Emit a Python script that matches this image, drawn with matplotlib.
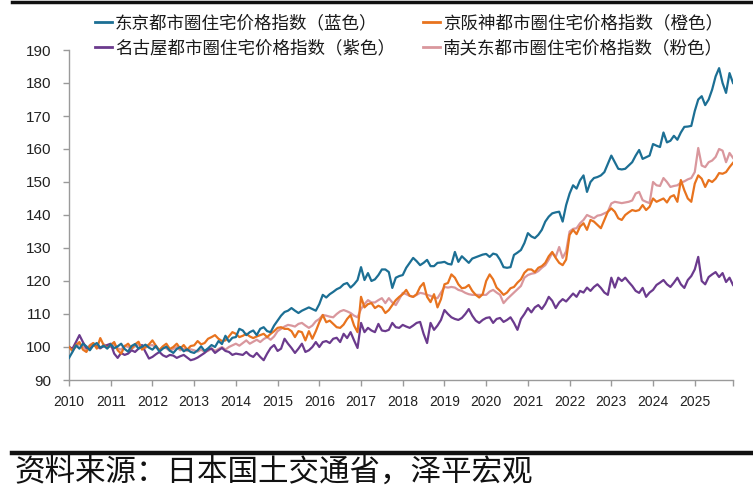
import numpy as np
import matplotlib
matplotlib.use("Agg")
import matplotlib.pyplot as plt
from matplotlib.lines import Line2D

# ---------------- data (monthly, 2010-01 .. 2025-12) ----------------
tokyo = [
    96.7, 98.5, 100.5, 99.5, 101.0, 100.2, 99.0, 100.5, 101.2, 99.8, 100.4, 99.5,
    100.8, 99.6, 100.2, 101.0, 99.4, 98.6, 100.3, 100.9, 99.5, 100.1, 100.7, 99.8,
    99.2, 100.3, 98.6, 99.5, 100.1, 98.9, 98.2, 99.4, 100.0, 98.7, 99.3, 98.5,
    98.2, 99.0, 100.2, 98.8, 99.6, 100.6, 100.0, 101.8, 100.9, 103.4, 101.6, 102.8,
    103.0, 105.5, 105.0, 103.6, 104.5, 105.0, 103.6, 105.5, 106.0, 104.8, 104.5, 106.5,
    108.0, 109.5, 110.6, 111.0, 111.8, 111.0, 110.3, 111.0, 111.5, 112.0, 111.5, 111.0,
    113.0, 115.8, 115.0, 116.0, 116.7, 117.5, 118.0, 119.0, 119.4, 118.0, 119.0, 120.3,
    124.2, 120.3, 122.4, 120.0, 120.5, 121.8, 123.5, 123.5, 122.7, 117.9, 121.0, 121.5,
    121.8, 124.0, 125.5, 127.0, 126.0, 124.8, 125.5, 126.4, 124.5, 124.5, 125.5, 125.6,
    125.8, 125.2, 125.0, 128.8, 125.8, 127.5, 126.5, 125.5, 126.8, 127.2, 127.6, 128.0,
    128.2, 127.3, 128.3, 128.0, 126.4, 124.2, 124.0, 124.2, 127.9, 128.6, 129.4, 131.5,
    134.5, 133.5, 133.0, 134.0, 135.5, 138.0, 139.5, 140.5, 140.8, 141.0, 138.0, 143.0,
    146.5, 149.0, 148.0, 150.5, 152.0, 147.0, 150.0, 151.2, 151.5, 152.0, 153.0, 155.5,
    158.0, 156.0, 154.0, 153.8, 154.0, 155.0, 156.0, 158.0, 159.7, 157.0, 157.5, 158.0,
    161.5, 161.0, 160.6, 165.0, 162.0, 162.5, 164.0, 162.8, 165.0, 166.7, 166.8, 167.0,
    171.5, 175.0, 176.0, 173.3, 175.0, 178.0, 182.0, 184.5, 180.0, 177.0, 183.0, 180.0,
]

kansai = [
    100.0, 98.8, 100.6, 101.5, 99.2, 98.5, 100.4, 101.2, 99.5, 102.7, 100.5, 99.8,
    100.6, 101.5, 99.0, 98.0, 100.2, 101.0, 99.6, 100.8, 101.6, 99.2, 100.0, 100.8,
    102.0, 100.4, 99.0, 100.2, 101.0, 99.4, 100.0, 101.0, 99.5, 100.6, 99.2, 100.3,
    100.5, 101.8, 100.8, 101.2, 102.5, 103.0, 103.6, 102.5, 101.8, 102.0, 103.2, 104.5,
    104.0, 103.0, 103.4, 104.0, 103.2, 102.7, 103.2, 103.6, 104.0, 103.0, 104.0, 104.8,
    105.8, 106.0, 105.5, 105.5, 104.8, 103.0, 104.8, 104.5, 102.0, 104.8, 102.5, 104.8,
    107.5, 109.7, 107.5, 108.0, 107.0, 106.0, 105.8, 106.8, 108.5, 109.7, 106.5, 104.5,
    115.2, 112.0, 113.0, 113.3, 111.8, 112.5, 112.0, 110.3, 111.2, 112.7, 114.2, 115.2,
    116.0, 117.3, 115.5, 115.2, 116.0, 118.2, 119.4, 115.2, 113.6, 116.0, 112.0, 114.5,
    119.0, 119.4, 122.0, 121.0, 119.0, 117.8, 118.0, 118.8, 117.0, 115.8, 115.0, 116.0,
    120.0, 122.0, 120.5, 118.0, 117.0, 115.8, 116.5, 117.8, 118.2, 119.5, 120.5, 122.5,
    123.5, 123.5, 122.7, 124.0, 124.5, 125.5, 127.5, 128.8, 127.0, 125.5, 124.8, 126.5,
    134.0, 135.5, 134.2, 136.5, 137.5, 135.5, 138.5, 138.0, 137.0, 136.0, 138.5, 141.0,
    142.0, 141.0, 139.0, 138.5, 140.0, 140.8, 141.5, 141.2, 141.5, 143.0, 141.5, 142.5,
    145.0, 144.0, 144.5, 145.0, 143.8, 145.5, 146.0, 144.0, 150.6, 147.5, 145.0, 144.0,
    149.5, 152.0, 151.0, 148.5, 150.6, 150.0, 151.0, 152.7, 152.5, 153.0, 154.5, 155.8,
]

nagoya = [
    100.0, 99.5, 101.5, 103.6, 101.5, 99.7, 99.5, 100.6, 100.2, 99.7, 100.2, 100.6,
    101.0, 98.0, 96.7, 98.2, 97.6, 98.0, 99.0, 98.5, 99.5, 100.6, 98.5, 96.5,
    97.0, 97.8, 98.5, 97.5, 97.0, 97.6, 97.4, 96.7, 97.2, 97.6, 96.8, 96.0,
    96.3, 96.8, 97.5, 98.2, 99.2, 99.5, 98.2, 99.0, 99.7, 98.8, 98.5, 97.6,
    98.0, 97.8, 97.6, 98.5, 97.5, 97.0, 98.2, 97.0, 96.0, 98.0, 99.7, 100.6,
    98.8, 99.5, 102.5, 101.0, 99.7, 98.2, 99.5, 101.0, 98.5, 99.0, 100.0, 101.5,
    100.0, 101.5, 101.8, 101.2, 102.5, 102.8, 101.5, 104.0, 102.7, 104.5, 102.0, 99.7,
    107.3, 104.5, 105.8, 105.0, 104.5, 107.0, 105.0, 104.8, 105.2, 107.3, 106.0, 105.8,
    106.7, 106.2, 105.8, 106.5, 107.3, 107.6, 104.0, 101.2, 107.3, 105.2, 106.5, 108.2,
    111.2, 110.0, 109.0, 108.5, 108.2, 108.8, 110.0, 111.5, 109.5, 108.0, 107.3, 108.2,
    108.8, 109.0, 107.3, 108.5, 108.8, 107.6, 108.2, 109.0, 107.3, 105.2, 108.5, 110.0,
    111.8, 110.5, 112.0, 112.7, 111.5, 113.0, 115.2, 114.0, 111.8, 113.5, 114.5, 113.8,
    115.0, 116.2, 115.2, 117.0, 116.5, 118.0, 117.0, 118.2, 119.0, 117.9, 116.5, 115.8,
    121.0, 118.0, 121.0, 120.0, 121.0, 119.7, 118.5, 117.0, 116.4, 117.9, 115.2, 116.5,
    117.3, 118.8, 119.5, 120.3, 119.0, 118.2, 119.5, 121.0, 119.0, 117.9, 120.3, 121.5,
    123.5, 127.3, 120.0, 119.0, 121.2, 122.0, 122.7, 121.2, 122.4, 119.7, 121.0, 118.8,
]

kanto = [
    100.2, 99.0, 100.0, 101.0, 100.2, 99.2, 100.6, 101.2, 100.0, 99.5, 100.8, 100.2,
    100.0, 100.8, 99.6, 99.2, 100.4, 100.0, 99.4, 100.2, 100.8, 99.6, 99.8, 100.4,
    100.6, 99.8, 99.2, 100.0, 99.6, 98.8, 99.4, 100.0, 99.0, 99.5, 98.8, 99.3,
    99.0, 98.6, 99.2, 98.5, 98.8, 99.6, 98.8, 99.4, 100.0, 99.2, 100.0, 100.5,
    101.0, 100.4, 101.2, 102.0, 101.0, 101.6, 102.2, 101.5, 102.4, 103.0, 102.2, 103.2,
    104.8, 105.5, 106.2, 106.7, 106.5, 106.2, 107.0, 107.3, 106.5, 105.8, 106.5, 107.8,
    108.5, 109.7, 109.5, 109.2, 109.0, 110.0, 110.8, 111.2, 110.8, 110.3, 109.5, 109.0,
    111.5, 113.0, 114.2, 113.5, 113.5, 114.2, 114.8, 113.3, 114.8, 113.5, 112.7, 114.5,
    116.4, 116.0, 115.5, 115.2, 115.8, 116.4, 116.2, 115.8, 115.5, 115.0, 114.8, 116.5,
    118.2, 118.0, 118.2, 118.0, 117.3, 117.0, 116.4, 116.0, 115.8, 115.8, 115.8, 115.8,
    115.8, 116.8, 117.3, 116.5, 115.8, 113.3, 114.5, 115.5, 116.5, 117.5, 118.5, 121.0,
    121.8, 122.2, 122.4, 123.0, 124.0, 124.8, 126.5, 128.5, 127.3, 130.3, 127.0, 129.0,
    135.0, 135.8, 136.0, 137.5, 138.5, 140.0, 139.5, 139.0, 139.8, 140.0, 140.5, 141.0,
    143.5, 144.0, 143.8, 143.6, 143.8, 144.0, 144.4, 146.5, 147.0, 144.5, 144.0, 143.6,
    150.0, 149.0, 148.8, 151.2, 150.0, 148.5, 148.8, 149.0, 149.8, 150.2, 150.8, 151.2,
    153.0, 160.3, 155.0, 154.5, 156.0, 156.5, 157.6, 160.0, 159.5, 156.0, 158.8, 157.3,
]

years = list(range(2010, 2026))
year_labels = [str(y) for y in years]
yticks = list(range(90, 200, 10))
legend_labels = ["东京都市圈住宅价格指数（蓝色）", "京阪神都市圈住宅价格指数（橙色）",
                 "名古屋都市圈住宅价格指数（紫色）", "南关东都市圈住宅价格指数（粉色）"]
source_text = "资料来源：日本国土交通省，泽平宏观"

# ---------------- figure ----------------
W, H = 753, 499
fig = plt.figure(figsize=(W / 100, H / 100), dpi=100)
fig.patch.set_facecolor("white")

ax = fig.add_axes([69 / W, 1 - 380 / H, (733 - 69) / W, (380 - 50) / H])

n = len(tokyo)
x = 2010 + np.arange(n) / 12.0

c_blue = "#1C6F94"
c_orange = "#E8731E"
c_purple = "#6B3A8D"
c_pink = "#D9979D"
lw = 1.6

ax.plot(x, kanto, color=c_pink, lw=lw, zorder=2)
ax.plot(x, nagoya, color=c_purple, lw=lw, zorder=3)
ax.plot(x, kansai, color=c_orange, lw=lw, zorder=4)
ax.plot(x, tokyo, color=c_blue, lw=lw, zorder=5)

ax.set_xlim(2010, x[-1])
ax.set_ylim(90, 190)

xt = years + [x[-1]]
ax.set_xticks(xt)
ax.set_xticklabels(year_labels + [""])
ax.set_yticks(yticks)
ax.set_yticklabels([str(v) for v in yticks])

tick_font = ["Liberation Sans", "DejaVu Sans"]
for lab in ax.get_xticklabels():
    lab.set_family(tick_font)
    lab.set_fontsize(10)
    lab.set_color("#222222")
for lab in ax.get_yticklabels():
    lab.set_family(tick_font)
    lab.set_fontsize(11)
    lab.set_color("#222222")

for s in ["top", "right"]:
    ax.spines[s].set_visible(False)
for s in ["left", "bottom"]:
    ax.spines[s].set_color("#9A9A9A")
    ax.spines[s].set_linewidth(1.0)
ax.tick_params(axis="both", direction="out", length=4, width=1.0, color="#9A9A9A")
ax.tick_params(axis="x", pad=7)
ax.tick_params(axis="y", pad=9)

# legend
cjk = ["Noto Sans CJK SC", "DejaVu Sans"]
handles = [Line2D([], [], color=c_blue, lw=2), Line2D([], [], color=c_purple, lw=2),
           Line2D([], [], color=c_orange, lw=2), Line2D([], [], color=c_pink, lw=2)]
labels = [legend_labels[0], legend_labels[2], legend_labels[1], legend_labels[3]]
leg = fig.legend(handles, labels, ncol=2, loc="upper left",
                 bbox_to_anchor=(95 / W, 1 - 14 / H), frameon=False,
                 prop={"family": cjk, "size": 12.6, "weight": "medium"},
                 handlelength=0.95, handletextpad=0.2, columnspacing=1.6,
                 labelspacing=0.4, borderaxespad=0, borderpad=0)
for t in leg.get_texts():
    t.set_color("#1a1a1a")

# decorative rules
fig.add_artist(Line2D([12 / W, 1], [1 - 1.5 / H, 1 - 1.5 / H], color="#111111", lw=2.5,
                      transform=fig.transFigure))
fig.add_artist(Line2D([12 / W, 1], [1 - 453 / H, 1 - 453 / H], color="#111111", lw=3.2,
                      transform=fig.transFigure))

fig.text(14 / W, 1 - 472 / H, source_text, family=cjk, fontsize=22,
         fontweight="light", style="italic", color="#111111", va="center", ha="left")

fig.savefig("out.png", dpi=100, facecolor="white")
